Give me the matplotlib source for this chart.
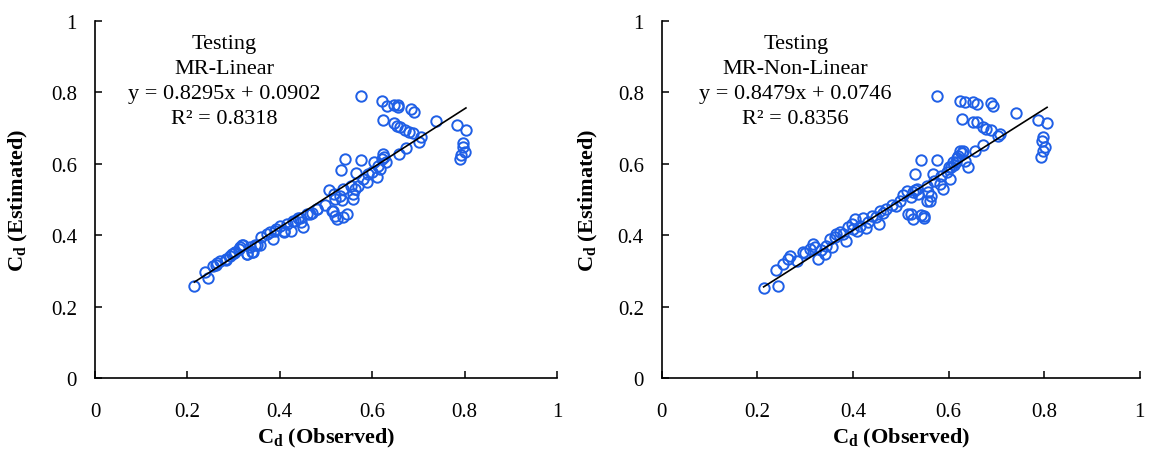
import matplotlib
matplotlib.use('Agg')
import matplotlib.pyplot as plt

plt.rcParams['font.family'] = ['Liberation Serif', 'DejaVu Serif']
plt.rcParams['mathtext.fontset'] = 'custom'
plt.rcParams['mathtext.rm'] = 'Liberation Serif'
plt.rcParams['mathtext.bf'] = 'Liberation Serif:bold'

# ---------------- testing data, MR-Linear ----------------
lin_obs = [0.215, 0.244, 0.238, 0.255, 0.263, 0.271, 0.284, 0.296, 0.303, 0.314,
           0.321, 0.330, 0.335, 0.343, 0.351, 0.359, 0.372, 0.379, 0.386, 0.392,
           0.400, 0.409, 0.415, 0.425, 0.429, 0.440, 0.447, 0.451, 0.458, 0.465,
           0.480, 0.498, 0.512, 0.519, 0.523, 0.537, 0.545, 0.507, 0.517, 0.519,
           0.530, 0.537, 0.534, 0.555, 0.558, 0.559, 0.563, 0.570, 0.532, 0.541,
           0.566, 0.576, 0.581, 0.588, 0.592, 0.599, 0.604, 0.610, 0.617, 0.621,
           0.623, 0.631, 0.659, 0.674, 0.702, 0.705, 0.739, 0.575, 0.621, 0.633,
           0.647, 0.656, 0.685, 0.691, 0.624, 0.647, 0.653, 0.660, 0.671, 0.680,
           0.689, 0.784, 0.803, 0.797, 0.796, 0.801, 0.793, 0.790,
           0.262, 0.283, 0.292, 0.301, 0.312, 0.319, 0.328, 0.339, 0.346, 0.357,
           0.390, 0.409, 0.433, 0.444, 0.469, 0.481, 0.516, 0.626, 0.655, 0.612]
lin_est = [0.259, 0.279, 0.298, 0.313, 0.321, 0.328, 0.333, 0.347, 0.352, 0.366,
           0.373, 0.347, 0.366, 0.354, 0.373, 0.394, 0.403, 0.410, 0.388, 0.417,
           0.427, 0.408, 0.431, 0.413, 0.441, 0.447, 0.438, 0.422, 0.459, 0.459,
           0.473, 0.485, 0.469, 0.455, 0.445, 0.450, 0.459, 0.527, 0.515, 0.501,
           0.509, 0.529, 0.498, 0.539, 0.515, 0.501, 0.529, 0.539, 0.583, 0.613,
           0.575, 0.611, 0.557, 0.548, 0.571, 0.576, 0.604, 0.562, 0.585, 0.613,
           0.627, 0.604, 0.627, 0.643, 0.660, 0.674, 0.721, 0.789, 0.775, 0.763,
           0.765, 0.758, 0.754, 0.746, 0.722, 0.713, 0.707, 0.702, 0.695, 0.688,
           0.685, 0.709, 0.695, 0.658, 0.646, 0.634, 0.625, 0.613,
           0.317, 0.330, 0.343, 0.350, 0.361, 0.373, 0.347, 0.354, 0.372, 0.372,
           0.413, 0.411, 0.441, 0.447, 0.462, 0.473, 0.469, 0.619, 0.764, 0.595]

# ---------------- testing data, MR-Non-Linear ----------------
nl_obs = [0.213, 0.243, 0.238, 0.254, 0.264, 0.268, 0.282, 0.296, 0.317, 0.320,
          0.327, 0.334, 0.341, 0.351, 0.355, 0.365, 0.372, 0.385, 0.390, 0.397,
          0.404, 0.409, 0.414, 0.421, 0.427, 0.439, 0.449, 0.455, 0.456, 0.463,
          0.481, 0.498, 0.505, 0.514, 0.522, 0.526, 0.543, 0.521, 0.526, 0.533,
          0.536, 0.529, 0.543, 0.554, 0.557, 0.554, 0.561, 0.564, 0.568, 0.575,
          0.575, 0.569, 0.582, 0.584, 0.589, 0.596, 0.603, 0.606, 0.609, 0.616,
          0.620, 0.623, 0.630, 0.634, 0.655, 0.672, 0.704, 0.707, 0.742, 0.786,
          0.806, 0.798, 0.796, 0.801, 0.798, 0.794, 0.623, 0.634, 0.650, 0.660,
          0.688, 0.693, 0.629, 0.650, 0.660, 0.671, 0.679, 0.688,
          0.300, 0.310, 0.344, 0.362, 0.378, 0.400, 0.432, 0.470, 0.490, 0.512,
          0.530, 0.548, 0.612, 0.618, 0.627, 0.640, 0.549, 0.600]
nl_est = [0.251, 0.257, 0.303, 0.319, 0.333, 0.341, 0.329, 0.352, 0.375, 0.366,
          0.333, 0.359, 0.347, 0.389, 0.366, 0.403, 0.408, 0.383, 0.422, 0.431,
          0.445, 0.413, 0.427, 0.447, 0.419, 0.455, 0.450, 0.431, 0.469, 0.462,
          0.485, 0.497, 0.513, 0.459, 0.459, 0.445, 0.457, 0.506, 0.522, 0.529,
          0.515, 0.571, 0.611, 0.539, 0.520, 0.497, 0.497, 0.511, 0.571, 0.611,
          0.789, 0.553, 0.543, 0.567, 0.529, 0.576, 0.557, 0.590, 0.604, 0.604,
          0.623, 0.637, 0.637, 0.609, 0.637, 0.653, 0.677, 0.683, 0.741, 0.723,
          0.714, 0.674, 0.665, 0.648, 0.637, 0.620, 0.777, 0.774, 0.772, 0.768,
          0.770, 0.761, 0.724, 0.716, 0.716, 0.704, 0.698, 0.695,
          0.350, 0.362, 0.371, 0.396, 0.404, 0.417, 0.437, 0.474, 0.482, 0.523,
          0.527, 0.449, 0.596, 0.616, 0.630, 0.592, 0.455, 0.590]

panels = [
    (lin_obs, lin_est, 'MR-Linear', 0.8295, 0.0902, 0.8318),
    (nl_obs, nl_est, 'MR-Non-Linear', 0.8479, 0.0746, 0.8356),
]
ticks = [0, 0.2, 0.4, 0.6, 0.8, 1]
tick_labels = ['0', '0.2', '0.4', '0.6', '0.8', '1']

fig = plt.figure(figsize=(11.49, 4.52), dpi=100)
boxes = [[0.0827, 0.1615, 0.402, 0.790], [0.576, 0.1615, 0.416, 0.790]]
ylab_x = [-0.141, -0.13]

for box, lx, (obs, est, name, slope, icpt, r2) in zip(boxes, ylab_x, panels):
    ax = fig.add_axes(box)
    ax.plot(obs, est, 'o', ls='none', mfc='none', mec='#1f5fe6', ms=7.5, mew=1.4)

    # linear trendline over the observed range
    x0, x1 = min(obs), max(obs)
    ax.plot([x0, x1], [slope * x0 + icpt, slope * x1 + icpt], color='black', lw=1.2)

    ax.text(0.28, 0.962,
            'Testing\n%s\ny = %.4fx + %.4f\nR² = %.4f' % (name, slope, icpt, r2),
            ha='center', va='top', fontsize=16, linespacing=1.42)

    ax.set_xlim(0, 1)
    ax.set_ylim(0, 1)
    ax.set_xticks(ticks)
    ax.set_yticks(ticks)
    ax.set_xticklabels(tick_labels)
    ax.set_yticklabels(tick_labels)
    ax.tick_params(direction='in', length=5, width=1.1, labelsize=15)
    ax.tick_params(axis='x', pad=17)
    ax.tick_params(axis='y', pad=13)
    for s in ['top', 'right']:
        ax.spines[s].set_visible(False)
    for s in ['left', 'bottom']:
        ax.spines[s].set_linewidth(1.2)

    ax.set_xlabel(r'$\mathbf{C_d}$ (Observed)', fontsize=16, fontweight='bold', labelpad=4)
    ax.set_ylabel(r'$\mathbf{C_d}$ (Estimated)', fontsize=16, fontweight='bold')
    ax.yaxis.set_label_coords(lx, 0.5)

plt.savefig('out.png', dpi=100)
